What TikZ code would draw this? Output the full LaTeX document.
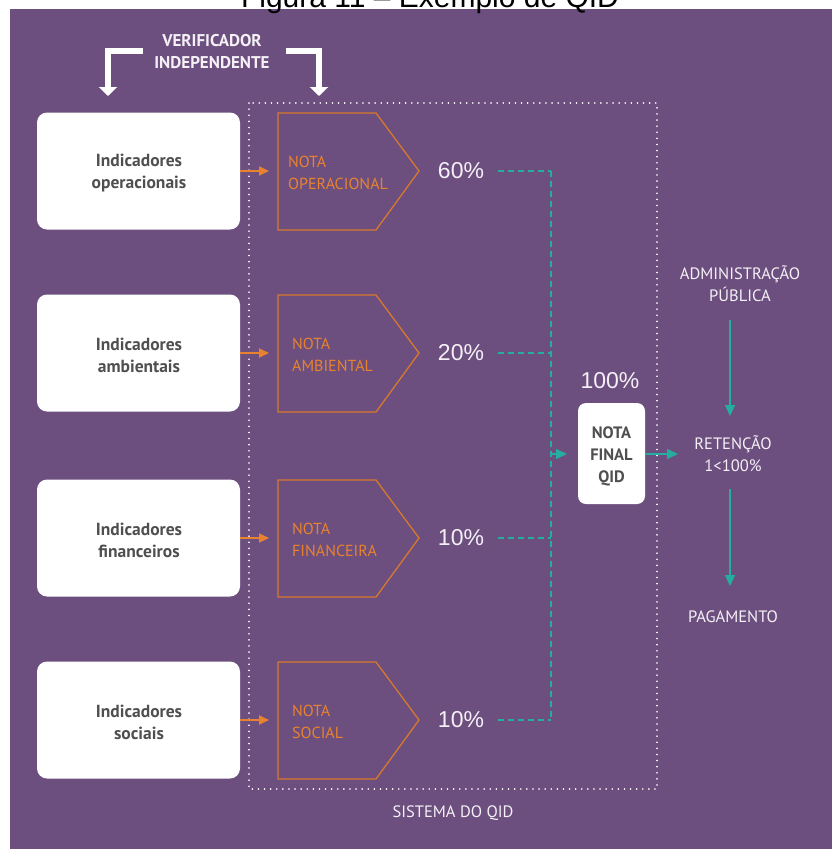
\documentclass[tikz,border=0pt]{standalone}
\usepackage{fontspec}
\setmainfont{PT Sans}
\newfontfamily\pctfont{Liberation Sans}
\usetikzlibrary{arrows.meta}

\definecolor{bgpurple}{HTML}{6C4F7E}
\definecolor{qidorange}{HTML}{E8822E}
\definecolor{pentorange}{HTML}{D7782F}
\definecolor{qidteal}{HTML}{25AE9F}
\definecolor{boxtext}{HTML}{4F4F4F}
\definecolor{softwhite}{HTML}{F4F0F6}

\tikzset{
  indbox/.style={fill=white, rounded corners=10pt, minimum width=203pt, minimum height=117pt,
    inner sep=0pt},
  boxlabel/.style={text=boxtext, align=center, inner sep=0pt, font=\bfseries\fontsize{17.5}{22}\selectfont},
  finalbox/.style={fill=white, rounded corners=8pt, minimum width=67pt, minimum height=101pt,
    inner sep=0pt},
  finallabel/.style={text=boxtext, align=center, inner sep=0pt, font=\bfseries\fontsize{16.5}{22}\selectfont},
  pentline/.style={draw=pentorange, line width=1.3pt, line join=miter},
  notatext/.style={anchor=west, align=left, text=qidorange, inner sep=0pt,
    font=\fontsize{16}{22}\selectfont},
  pctlabel/.style={text=softwhite, inner sep=0pt, font=\pctfont\fontsize{23}{23}\selectfont},
  whitelabel/.style={text=softwhite, align=center, inner sep=0pt, font=\fontsize{16.5}{22}\selectfont},
  verlabel/.style={text=softwhite, align=center, inner sep=0pt, font=\bfseries\fontsize{17}{22}\selectfont},
  orangearrow/.style={draw=qidorange, line width=1.8pt, -{Triangle[width=9pt,length=10pt]}},
  tealdash/.style={draw=qidteal, line width=2pt, dash pattern=on 6pt off 4pt},
  tealarrow/.style={draw=qidteal, line width=1.5pt, -{Triangle[width=10pt,length=11pt]}},
  bracketarrow/.style={draw=white, line width=6pt, line join=miter, -{Triangle[width=18pt,length=9pt]}},
  sysline/.style={draw=white, line width=1.6pt, line cap=round, dash pattern=on 0.1pt off 6pt},
}

\begin{document}
\begin{tikzpicture}[x=1pt, y=-1pt]
\useasboundingbox (0,0) rectangle (832,849);
\clip (0,0) rectangle (832,849);

% page background and panel
\fill[white] (0,0) rectangle (832,849);
\fill[bgpurple] (10,9) rectangle (832,849);

% caption above the panel (its top runs past the page edge)
\node[anchor=base, inner sep=0pt, font=\pctfont\fontsize{30}{30}\selectfont] (caption) at (430,7)
  {Figura 11 – Exemplo de QID};

% boundary of the QID system
\draw[sysline] (249,103) rectangle (657,789);
\node[whitelabel] (syslabel) at (453,813) {SISTEMA DO QID};

% independent verifier
\node[verlabel] (verif) at (212,52) {VERIFICADOR\\INDEPENDENTE};
\coordinate (vl) at (143,50.5);
\coordinate (vlend) at (108,96);
\coordinate (vr) at (286,50.5);
\coordinate (vrend) at (319,96);
\draw[bracketarrow] (vl) -| (vlend);
\draw[bracketarrow] (vr) -| (vrend);

% indicator rows
\foreach \i/\yc/\ind/\nota/\tx/\pc in {
    1/171/operacionais/OPERACIONAL/288/60,
    2/353/ambientais/AMBIENTAL/292/20,
    3/538/financeiros/FINANCEIRA/292/10,
    4/720/sociais/SOCIAL/292/10} {
  \node[indbox] (ind\i) at (138.5,\yc) {};
  \node[boxlabel] (indt\i) at (139,\yc+2) {Indicadores\\\ind};
  \draw[pentline] (278,\yc-58) -- (376,\yc-58) -- (419,\yc) -- (376,\yc+59) -- (278,\yc+59) -- cycle;
  \coordinate (src\i) at (240,\yc);
  \coordinate (pent\i) at (269,\yc);
  \node[notatext] (nt\i) at (\tx,\yc+2) {NOTA\\\nota};
  \node[pctlabel] (pct\i) at (461,\yc) {\pc\%};
  \coordinate (d\i) at (498,\yc);
  \coordinate (j\i) at (551,\yc);
  \draw[orangearrow] (src\i) -- (pent\i);
  \draw[tealdash] (d\i) -- (j\i);
}
\draw[tealdash] (j1) -- (j4);

% final score
\node[finalbox] (final) at (611.5,453.5) {};
\node[finallabel] (finalt) at (611.5,456.5) {NOTA\\FINAL\\QID};
\node[pctlabel] (pcttotal) at (610,381) {100\%};
\coordinate (jm) at (552,454);
\coordinate (fin) at (567,454);
\draw[tealarrow] (jm) -- (fin);

% public administration side
\node[whitelabel] (adm) at (740,284) {ADMINISTRAÇÃO\\PÚBLICA};
\node[whitelabel] (ret) at (733,453.5) {RETENÇÃO\\1<100\%};
\node[whitelabel] (pag) at (733,617) {PAGAMENTO};
\coordinate (fout) at (645,454);
\coordinate (retin) at (678,454);
\draw[tealarrow] (fout) -- (retin);
\coordinate (a1s) at (730,320);
\coordinate (a1e) at (730,416);
\coordinate (a2s) at (730,489);
\coordinate (a2e) at (730,586);
\draw[tealarrow] (a1s) -- (a1e);
\draw[tealarrow] (a2s) -- (a2e);
\end{tikzpicture}
\end{document}
